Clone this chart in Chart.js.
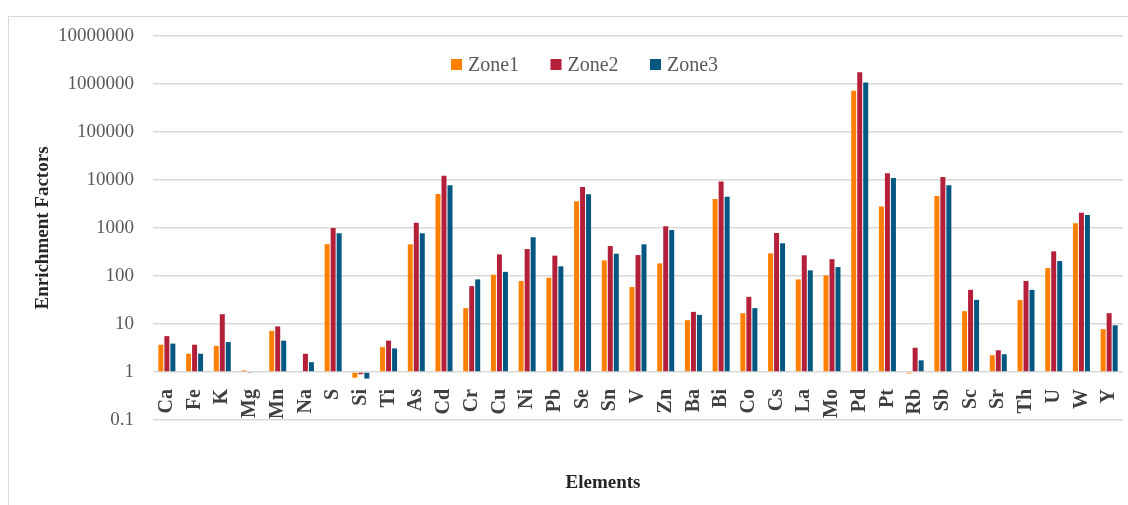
<!DOCTYPE html>
<html>
<head>
<meta charset="utf-8">
<script src="https://cdn.jsdelivr.net/npm/chart.js@4"></script>
<style>
  html, body { margin: 0; padding: 0; background: #ffffff; }
  #wrap { position: relative; width: 1128px; height: 505px; overflow: hidden; }
  #frame { position: absolute; left: 8px; top: 16px; width: 1140px; height: 520px;
           border: 1px solid #d9d9d9; box-sizing: border-box; }
  #chart { position: absolute; left: 0; top: 0; }
</style>
</head>
<body>
<div id="wrap">
  <div id="frame"></div>
  <canvas id="chart" width="1128" height="505"></canvas>
</div>
<script>
// Elements on the horizontal axis
const elements = ['Ca','Fe','K','Mg','Mn','Na','S','Si','Ti','As','Cd','Cr','Cu','Ni','Pb','Se','Sn','V','Zn',
                  'Ba','Bi','Co','Cs','La','Mo','Pd','Pt','Rb','Sb','Sc','Sr','Th','U','W','Y'];

// Enrichment factors per sampling zone
const zone1 = [3.7, 2.4, 3.5, 1.08, 7.2, 1.0, 460, 0.76, 3.3, 457, 5130, 21.4, 106, 79, 92, 3610, 211, 59, 183,
               12, 4030, 16.8, 296, 85, 103, 724000, 2790, 0.93, 4660, 18.5, 2.23, 31.8, 146, 1250, 7.8];
const zone2 = [5.6, 3.7, 16, 0.95, 8.9, 2.4, 1000, 0.9, 4.5, 1290, 12300, 61.5, 282, 364, 265, 7180, 421, 273, 1085,
               17.9, 9270, 36.8, 787, 270, 225, 1750000, 13800, 3.2, 11600, 51.5, 2.84, 79, 326, 2090, 16.8];
const zone3 = [3.9, 2.4, 4.2, 1.0, 4.5, 1.6, 780, 0.73, 3.1, 776, 7770, 85, 122, 640, 159, 5040, 291, 457, 908,
               15.5, 4500, 21.4, 480, 131, 153, 1070000, 11070, 1.75, 7800, 31.8, 2.34, 51.5, 205, 1870, 9.4];

// Logarithmic axis ticks and their labels
const yTickValues = [0.1, 1, 10, 100, 1000, 10000, 100000, 1000000, 10000000];
const yTickLabels = ['0.1', '1', '10', '100', '1000', '10000', '100000', '1000000', '10000000'];

const SERIF = "'Liberation Serif', 'Times New Roman', serif";

// Legend row and horizontal axis caption drawn on top of the plot
const captions = {
  id: 'captions',
  afterDraw(chart, args, opts) {
    const ctx = chart.ctx;
    ctx.save();
    ctx.font = opts.legendFont;
    ctx.textBaseline = 'middle';
    ctx.textAlign = 'left';
    let x = opts.legendX;
    chart.data.datasets.forEach(ds => {
      ctx.fillStyle = ds.backgroundColor;
      ctx.fillRect(x, opts.legendY - opts.box / 2, opts.box, opts.box);
      ctx.fillStyle = opts.legendColor;
      ctx.fillText(ds.label, x + opts.box + opts.gap, opts.legendY + 1);
      x += opts.step;
    });
    ctx.font = opts.titleFont;
    ctx.fillStyle = opts.titleColor;
    ctx.textAlign = 'center';
    ctx.fillText(opts.xTitle, opts.xTitleX, opts.xTitleY);
    ctx.restore();
  }
};

new Chart(document.getElementById('chart'), {
  type: 'bar',
  data: {
    labels: elements,
    datasets: [
      { label: 'Zone1', data: zone1, backgroundColor: '#FF8000' },
      { label: 'Zone2', data: zone2, backgroundColor: '#B4203A' },
      { label: 'Zone3', data: zone3, backgroundColor: '#045781' }
    ]
  },
  options: {
    responsive: false,
    animation: false,
    datasets: { bar: { base: 1, categoryPercentage: 0.65, barPercentage: 0.83, borderWidth: 0 } },
    layout: { padding: { top: 36, right: 5, bottom: 85, left: 0 } },
    plugins: {
      legend: { display: false },
      tooltip: { enabled: false },
      captions: {
        legendX: 451, legendY: 64.5, box: 11, gap: 6, step: 99.5,
        legendFont: '20px ' + SERIF, legendColor: '#595959',
        xTitle: 'Elements', xTitleX: 603, xTitleY: 483,
        titleFont: 'bold 19px ' + SERIF, titleColor: '#262626'
      }
    },
    scales: {
      x: {
        position: { y: 1 },
        // rotated labels sit inside the plot, so no extra edge room is reserved for them
        afterFit: s => { s.paddingLeft = 0; s.paddingRight = 0; },
        grid: { display: false },
        border: { display: false },
        ticks: {
          autoSkip: false, minRotation: 90, maxRotation: 90, padding: 9,
          font: { family: SERIF, size: 20, weight: 'bold' }, color: '#404040'
        }
      },
      y: {
        type: 'logarithmic',
        min: 0.1,
        max: 10000000,
        afterBuildTicks: s => { s.ticks = yTickValues.map(v => ({ value: v })); },
        afterFit: s => { s.width = 153; },
        ticks: {
          callback: (v, i) => yTickLabels[i],
          font: { family: SERIF, size: 19 }, color: '#595959', padding: 19
        },
        grid: { color: '#d9d9d9', lineWidth: 1.5, drawTicks: false },
        border: { display: false },
        title: {
          display: true, text: 'Enrichment Factors',
          font: { family: SERIF, size: 19, weight: 'bold' }, color: '#262626',
          padding: { top: 32, bottom: 0 }
        }
      }
    }
  },
  plugins: [captions]
});
</script>
</body>
</html>
